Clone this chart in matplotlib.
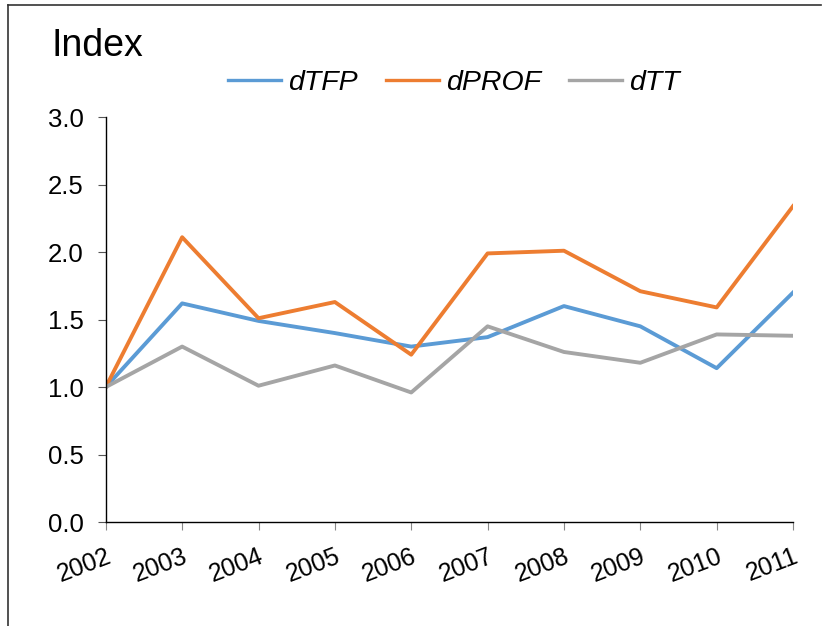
import matplotlib.pyplot as plt
from matplotlib.lines import Line2D

years = ['2002', '2003', '2004', '2005', '2006', '2007', '2008', '2009', '2010', '2011']
dtfp = [1.00, 1.62, 1.49, 1.40, 1.30, 1.37, 1.60, 1.45, 1.14, 1.70]
dprof = [1.00, 2.11, 1.51, 1.63, 1.24, 1.99, 2.01, 1.71, 1.59, 2.34]
dtt = [1.00, 1.30, 1.01, 1.16, 0.96, 1.45, 1.26, 1.18, 1.39, 1.38]

plt.rcParams['font.family'] = ['Liberation Sans', 'DejaVu Sans']

fig = plt.figure(figsize=(8.33, 6.26), dpi=100)
ax = fig.add_axes([0.127, 0.166, 0.825, 0.647])

x = range(len(years))
ax.plot(x, dtfp, color='#5B9BD5', lw=2.8, label='dTFP')
ax.plot(x, dprof, color='#ED7D31', lw=2.8, label='dPROF')
ax.plot(x, dtt, color='#A5A5A5', lw=2.8, label='dTT')

ax.set_xlim(0, len(years) - 1)
ax.set_ylim(0, 3.0)
ax.set_yticks([0, 0.5, 1.0, 1.5, 2.0, 2.5, 3.0])
ax.set_yticklabels(['%.1f' % v for v in ax.get_yticks()], fontsize=18.5)
ax.set_xticks(list(x))
ax.set_xticklabels(years, fontsize=18, rotation=21, ha='right', rotation_mode='anchor')
ax.tick_params(axis='x', length=6, color='#888888', pad=10)
ax.tick_params(axis='y', length=6, color='#555555', pad=10)

for s in ['top', 'right']:
    ax.spines[s].set_visible(False)
ax.spines['left'].set_linewidth(1.0)
ax.spines['bottom'].set_linewidth(1.0)

fig.text(0.062, 0.926, 'Index', fontsize=27, va='center')

leg = fig.legend(loc='center', bbox_to_anchor=(0.545, 0.868), ncol=3, frameon=False,
                 prop={'style': 'italic', 'size': 20.5}, handlelength=1.85, columnspacing=1.0,
                 handletextpad=0.25)
for h in leg.legend_handles:
    h.set_linewidth(2.4)

# slide border
fig.add_artist(Line2D([0.01, 0.985], [0.992, 0.992], color='#333333', lw=1.2, transform=fig.transFigure))
fig.add_artist(Line2D([0.01, 0.01], [0.0, 0.992], color='#333333', lw=1.2, transform=fig.transFigure))

fig.savefig('out.png', dpi=100)
